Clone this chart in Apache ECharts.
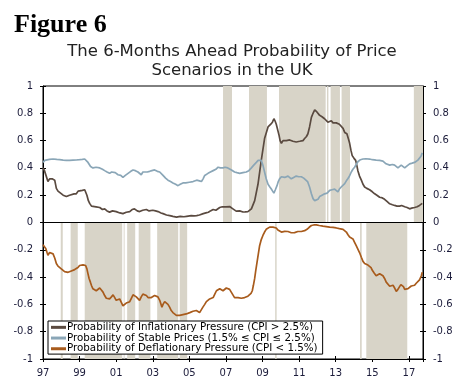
<!DOCTYPE html>
<html><head><meta charset="utf-8">
<script src="https://cdn.jsdelivr.net/npm/echarts@6/dist/echarts.min.js"></script>
<style>html,body{margin:0;padding:0;background:#fff}#c{width:473px;height:391px}</style>
</head><body><div id="c"></div>
<script>
// time in years since Jan 1997
const startYear = 1997;
const xTickLabels = ['97','99','01','03','05','07','09','11','13','15','17'];
const seriesNames = [
  'Probability of Inflationary Pressure (CPI > 2.5%)',
  'Probability of Stable Prices (1.5% \u2264 CPI \u2264 2.5%)',
  'Probability of Deflationary Pressure (CPI < 1.5%)'
];
const inflation = [[0,0.40],[0.08,0.38],[0.18,0.37],[0.27,0.30],[0.36,0.32],[0.5,0.32],[0.64,0.31],[0.73,0.25],[0.82,0.23],[0.91,0.22],[1.1,0.20],[1.28,0.19],[1.45,0.20],[1.55,0.20],[1.7,0.21],[1.82,0.21],[1.92,0.23],[2.0,0.23],[2.15,0.235],[2.28,0.24],[2.4,0.20],[2.48,0.16],[2.55,0.14],[2.65,0.12],[2.73,0.11],[2.9,0.115],[3.1,0.11],[3.25,0.095],[3.37,0.10],[3.5,0.085],[3.64,0.076],[3.8,0.085],[4.0,0.08],[4.2,0.07],[4.37,0.065],[4.55,0.075],[4.74,0.08],[4.87,0.095],[5.0,0.10],[5.15,0.085],[5.28,0.08],[5.45,0.09],[5.55,0.10],[5.65,0.095],[5.8,0.085],[6.0,0.09],[6.15,0.085],[6.29,0.08],[6.45,0.07],[6.56,0.065],[6.75,0.055],[6.93,0.05],[7.1,0.045],[7.3,0.04],[7.5,0.045],[7.7,0.042],[7.85,0.045],[8.1,0.05],[8.25,0.048],[8.4,0.05],[8.55,0.055],[8.76,0.065],[8.9,0.07],[9.04,0.075],[9.15,0.085],[9.3,0.095],[9.45,0.09],[9.66,0.11],[9.8,0.115],[10.0,0.115],[10.1,0.12],[10.2,0.117],[10.38,0.10],[10.56,0.083],[10.75,0.085],[10.93,0.077],[11.05,0.078],[11.2,0.08],[11.39,0.10],[11.57,0.16],[11.75,0.28],[11.93,0.455],[12.11,0.615],[12.3,0.70],[12.45,0.72],[12.54,0.735],[12.62,0.76],[12.68,0.745],[12.75,0.72],[12.9,0.64],[12.96,0.60],[13.03,0.58],[13.12,0.60],[13.21,0.61],[13.3,0.60],[13.39,0.59],[13.48,0.605],[13.57,0.61],[13.66,0.595],[13.75,0.585],[13.84,0.59],[13.93,0.60],[14.03,0.595],[14.12,0.59],[14.21,0.60],[14.3,0.615],[14.4,0.63],[14.48,0.65],[14.57,0.70],[14.67,0.77],[14.76,0.80],[14.85,0.825],[14.97,0.81],[15.05,0.80],[15.12,0.785],[15.25,0.775],[15.39,0.76],[15.48,0.75],[15.57,0.735],[15.67,0.74],[15.76,0.745],[15.85,0.73],[15.94,0.72],[16.03,0.73],[16.12,0.74],[16.2,0.72],[16.3,0.71],[16.4,0.69],[16.49,0.66],[16.61,0.65],[16.7,0.61],[16.76,0.58],[16.83,0.53],[16.9,0.49],[17.0,0.47],[17.09,0.455],[17.15,0.42],[17.21,0.38],[17.3,0.34],[17.4,0.31],[17.49,0.28],[17.58,0.26],[17.7,0.25],[17.85,0.24],[18.0,0.225],[18.13,0.21],[18.25,0.20],[18.4,0.185],[18.55,0.18],[18.67,0.17],[18.8,0.155],[18.95,0.137],[19.1,0.13],[19.22,0.125],[19.35,0.12],[19.49,0.12],[19.6,0.125],[19.77,0.115],[19.9,0.11],[20.04,0.10],[20.15,0.105],[20.31,0.11],[20.45,0.115],[20.58,0.125],[20.66,0.13],[20.73,0.14]];
const stable = [[0,0.44],[0.1,0.455],[0.18,0.46],[0.35,0.462],[0.55,0.465],[0.75,0.462],[0.91,0.46],[1.1,0.457],[1.28,0.455],[1.45,0.455],[1.64,0.457],[1.82,0.458],[2.0,0.46],[2.15,0.462],[2.28,0.465],[2.38,0.455],[2.46,0.44],[2.6,0.41],[2.73,0.40],[2.9,0.405],[3.1,0.40],[3.25,0.39],[3.37,0.38],[3.5,0.37],[3.64,0.36],[3.75,0.37],[3.83,0.38],[3.95,0.365],[4.1,0.35],[4.25,0.345],[4.37,0.33],[4.5,0.345],[4.65,0.36],[4.8,0.375],[4.92,0.385],[5.05,0.38],[5.19,0.37],[5.28,0.36],[5.37,0.35],[5.46,0.37],[5.56,0.38],[5.7,0.37],[5.83,0.375],[5.95,0.38],[6.1,0.385],[6.25,0.375],[6.38,0.37],[6.47,0.36],[6.56,0.345],[6.7,0.325],[6.83,0.31],[6.97,0.30],[7.1,0.29],[7.25,0.28],[7.38,0.27],[7.5,0.28],[7.65,0.29],[7.8,0.29],[8.0,0.295],[8.2,0.30],[8.4,0.31],[8.55,0.305],[8.66,0.30],[8.75,0.32],[8.84,0.345],[9.02,0.36],[9.15,0.37],[9.3,0.38],[9.45,0.39],[9.57,0.405],[9.7,0.40],[9.84,0.40],[9.95,0.405],[10.1,0.40],[10.2,0.40],[10.3,0.385],[10.47,0.37],[10.6,0.365],[10.75,0.36],[10.93,0.365],[11.11,0.37],[11.25,0.38],[11.39,0.40],[11.52,0.42],[11.66,0.44],[11.76,0.455],[11.84,0.465],[11.93,0.455],[12.02,0.42],[12.11,0.37],[12.2,0.32],[12.3,0.28],[12.4,0.26],[12.48,0.245],[12.55,0.23],[12.62,0.215],[12.7,0.24],[12.79,0.27],[12.86,0.30],[12.93,0.32],[13.03,0.335],[13.12,0.325],[13.21,0.33],[13.3,0.335],[13.39,0.34],[13.48,0.33],[13.57,0.32],[13.7,0.33],[13.84,0.34],[13.98,0.335],[14.12,0.335],[14.25,0.325],[14.35,0.32],[14.46,0.30],[14.57,0.26],[14.67,0.21],[14.76,0.175],[14.85,0.16],[14.94,0.155],[15.03,0.17],[15.12,0.19],[15.25,0.20],[15.39,0.21],[15.53,0.215],[15.67,0.235],[15.8,0.24],[15.94,0.245],[16.03,0.235],[16.12,0.225],[16.2,0.245],[16.3,0.26],[16.39,0.27],[16.49,0.285],[16.58,0.305],[16.66,0.32],[16.73,0.335],[16.85,0.37],[16.94,0.39],[17.03,0.405],[17.12,0.425],[17.21,0.445],[17.35,0.46],[17.49,0.465],[17.65,0.467],[17.85,0.465],[18.0,0.46],[18.21,0.457],[18.4,0.455],[18.58,0.45],[18.75,0.43],[18.85,0.425],[18.95,0.42],[19.1,0.425],[19.22,0.42],[19.31,0.41],[19.4,0.40],[19.5,0.41],[19.58,0.42],[19.68,0.41],[19.77,0.40],[19.9,0.415],[20.04,0.43],[20.18,0.435],[20.31,0.44],[20.4,0.45],[20.49,0.457],[20.58,0.47],[20.66,0.485],[20.73,0.51]];
const deflation = [[0,-0.163],[0.08,-0.175],[0.15,-0.19],[0.22,-0.22],[0.27,-0.24],[0.36,-0.22],[0.45,-0.225],[0.55,-0.23],[0.64,-0.26],[0.73,-0.30],[0.82,-0.32],[0.91,-0.33],[1.0,-0.34],[1.09,-0.345],[1.18,-0.36],[1.28,-0.37],[1.37,-0.365],[1.46,-0.36],[1.55,-0.355],[1.64,-0.345],[1.73,-0.345],[1.82,-0.34],[1.91,-0.33],[2.0,-0.315],[2.1,-0.305],[2.19,-0.31],[2.28,-0.305],[2.33,-0.315],[2.4,-0.34],[2.46,-0.376],[2.52,-0.41],[2.59,-0.437],[2.66,-0.465],[2.73,-0.486],[2.82,-0.49],[2.91,-0.50],[3.0,-0.49],[3.1,-0.48],[3.19,-0.495],[3.28,-0.51],[3.37,-0.535],[3.46,-0.555],[3.55,-0.56],[3.64,-0.56],[3.74,-0.545],[3.83,-0.53],[3.92,-0.55],[4.0,-0.57],[4.1,-0.565],[4.19,-0.56],[4.28,-0.585],[4.37,-0.61],[4.46,-0.60],[4.55,-0.59],[4.64,-0.585],[4.74,-0.58],[4.83,-0.555],[4.92,-0.53],[5.01,-0.535],[5.1,-0.545],[5.19,-0.555],[5.28,-0.57],[5.37,-0.545],[5.46,-0.525],[5.55,-0.53],[5.65,-0.535],[5.74,-0.55],[5.83,-0.56],[5.92,-0.55],[6.0,-0.545],[6.1,-0.535],[6.19,-0.525],[6.28,-0.545],[6.38,-0.57],[6.44,-0.595],[6.5,-0.62],[6.56,-0.60],[6.65,-0.58],[6.74,-0.59],[6.83,-0.60],[6.92,-0.62],[7.01,-0.645],[7.1,-0.66],[7.2,-0.67],[7.29,-0.68],[7.38,-0.686],[7.47,-0.68],[7.56,-0.68],[7.65,-0.675],[7.74,-0.67],[7.83,-0.67],[7.92,-0.665],[8.02,-0.66],[8.11,-0.655],[8.2,-0.65],[8.29,-0.64],[8.38,-0.645],[8.47,-0.65],[8.56,-0.66],[8.65,-0.64],[8.74,-0.62],[8.84,-0.60],[8.93,-0.58],[9.02,-0.57],[9.11,-0.56],[9.2,-0.555],[9.3,-0.55],[9.39,-0.525],[9.48,-0.50],[9.57,-0.49],[9.66,-0.485],[9.75,-0.49],[9.84,-0.50],[9.93,-0.49],[10.02,-0.48],[10.11,-0.485],[10.2,-0.49],[10.29,-0.51],[10.38,-0.53],[10.47,-0.55],[10.56,-0.56],[10.66,-0.55],[10.75,-0.545],[10.84,-0.555],[10.93,-0.56],[11.02,-0.55],[11.11,-0.545],[11.2,-0.54],[11.29,-0.535],[11.37,-0.52],[11.44,-0.50],[11.5,-0.46],[11.57,-0.41],[11.63,-0.35],[11.7,-0.29],[11.77,-0.23],[11.84,-0.17],[11.93,-0.125],[12.02,-0.095],[12.11,-0.07],[12.2,-0.05],[12.3,-0.04],[12.39,-0.034],[12.48,-0.032],[12.57,-0.034],[12.66,-0.036],[12.75,-0.04],[12.84,-0.055],[12.93,-0.066],[13.03,-0.07],[13.12,-0.07],[13.21,-0.065],[13.3,-0.07],[13.39,-0.066],[13.48,-0.072],[13.57,-0.075],[13.66,-0.08],[13.75,-0.074],[13.84,-0.07],[13.93,-0.066],[14.03,-0.068],[14.12,-0.066],[14.21,-0.066],[14.3,-0.06],[14.43,-0.05],[14.55,-0.035],[14.67,-0.022],[14.8,-0.018],[14.94,-0.017],[15.1,-0.022],[15.3,-0.027],[15.48,-0.03],[15.67,-0.034],[15.85,-0.036],[16.03,-0.04],[16.2,-0.045],[16.4,-0.05],[16.49,-0.058],[16.58,-0.07],[16.67,-0.09],[16.76,-0.107],[16.85,-0.115],[16.94,-0.12],[17.03,-0.145],[17.12,-0.17],[17.21,-0.195],[17.3,-0.22],[17.4,-0.255],[17.49,-0.285],[17.58,-0.30],[17.67,-0.31],[17.76,-0.312],[17.85,-0.315],[17.93,-0.33],[18.0,-0.35],[18.1,-0.37],[18.21,-0.39],[18.3,-0.38],[18.4,-0.375],[18.49,-0.385],[18.58,-0.39],[18.67,-0.41],[18.76,-0.437],[18.85,-0.45],[18.95,-0.467],[19.04,-0.465],[19.13,-0.46],[19.22,-0.48],[19.31,-0.505],[19.4,-0.49],[19.49,-0.47],[19.56,-0.455],[19.64,-0.45],[19.7,-0.47],[19.77,-0.49],[19.86,-0.49],[19.95,-0.485],[20.04,-0.475],[20.13,-0.465],[20.22,-0.462],[20.31,-0.46],[20.4,-0.445],[20.49,-0.432],[20.58,-0.42],[20.62,-0.41],[20.68,-0.39],[20.73,-0.364]];
// shaded periods (years since 1997): top panel and bottom panel
const topBands = [[9.84,10.33],[11.26,12.24],[12.90,15.45],[15.52,15.60],[15.72,16.23],[16.32,16.78],[20.27,20.77]];
const bottomBands = [[0.97,1.08],[1.51,1.90],[2.28,4.33],[4.41,4.46],[4.60,5.04],[5.23,5.87],[6.24,7.39],[7.47,7.88],[12.69,12.77],[17.33,17.42],[17.67,19.91]];
const xMax = 20.77;

const font = 'DejaVu Sans';
const labelColor = '#1b1b3a';
const bandColor = '#d8d4c8';

const chart = echarts.init(document.getElementById('c'), null, {renderer:'canvas'});
function xAx(inside, labels){
  return {type:'value', min:0, max:xMax, interval:2, position:'bottom', gridIndex:0,
    axisLine:{show:!inside, onZero:false, lineStyle:{color:'#000', width:1}},
    axisTick:{show:true, inside:inside, length:3, lineStyle:{color:'#000'}},
    axisLabel:{show:labels, margin:9, fontFamily:font, fontSize:10, color:labelColor,
      formatter:(v)=>{const i=Math.round(v/2); return (Math.abs(v-i*2)<1e-6 && xTickLabels[i])?xTickLabels[i]:'';}},
    splitLine:{show:false}};
}
function yAx(pos, inside, labels){
  return {type:'value', min:-1, max:1, interval:0.2, position:pos, gridIndex:0,
    axisLine:{show:!inside, onZero:false, lineStyle:{color:'#000', width:1}},
    axisTick:{show:true, inside:inside, length:3, lineStyle:{color:'#000'}},
    axisLabel:{show:labels, margin:10, fontFamily:font, fontSize:10, color:labelColor,
      formatter:(v)=>String(Math.round(v*10)/10)},
    splitLine:{show:false}};
}
const topAreas = topBands.map(b=>[{xAxis:b[0], yAxis:0},{xAxis:b[1], yAxis:1}]);
const botAreas = bottomBands.map(b=>[{xAxis:b[0], yAxis:-1},{xAxis:b[1], yAxis:0}]);

chart.setOption({
  animation:false,
  backgroundColor:'#fff',
  title:[
    {text:'Figure 6', left:9, top:7, textStyle:{fontFamily:'Liberation Serif', fontWeight:'bold', fontSize:26, color:'#000'}},
    {text:'The 6-Months Ahead Probability of Price\nScenarios in the UK', left:227, top:37, textAlign:'center',
     textStyle:{fontFamily:font, fontWeight:'normal', fontSize:16.5, lineHeight:19.3, color:'#222'}}
  ],
  grid:{left:43, right:50, top:86, bottom:32, show:true, borderColor:'#000', borderWidth:1, backgroundColor:'transparent'},
  legend:{orient:'vertical', left:48, top:321, itemGap:0, itemWidth:15, itemHeight:3, icon:'rect',
    padding:[1,5,0,3], backgroundColor:'#fff', borderColor:'#000', borderWidth:1,
    textStyle:{fontFamily:font, fontSize:10.3, lineHeight:10.7, color:'#000', padding:[0,0,0,-4]},
    data:seriesNames},
  xAxis:[xAx(false,true), xAx(true,false)],
  yAxis:[yAx('left',false,true), yAx('right',false,true), yAx('left',true,false), yAx('right',true,false)],
  series:[
    {type:'line', name:'bands', data:[], z:1, silent:true,
     markArea:{silent:true, itemStyle:{color:bandColor}, data:topAreas.concat(botAreas)},
     markLine:{silent:true, symbol:['none','none'], label:{show:false}, lineStyle:{color:'#000', width:1, type:'solid'}, data:[{yAxis:0}]}},
    {type:'line', name:seriesNames[0], data:inflation, showSymbol:false, z:3, color:'#5a4a40', lineStyle:{width:1.7}},
    {type:'line', name:seriesNames[1], data:stable, showSymbol:false, z:3, color:'#8aa6b7', lineStyle:{width:1.7}},
    {type:'line', name:seriesNames[2], data:deflation, showSymbol:false, z:3, color:'#a85b1c', lineStyle:{width:1.7}}
  ]
});
</script></body></html>
